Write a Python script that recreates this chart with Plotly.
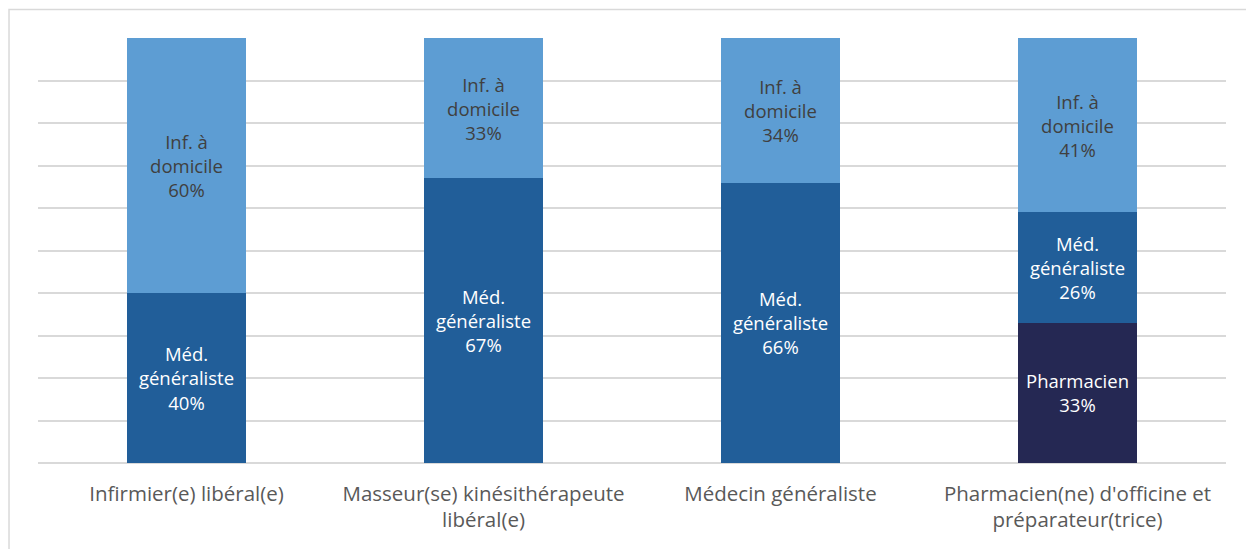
import plotly.graph_objects as go

# Categories and shares (%)
categories = [
    "Infirmier(e) libéral(e)",
    "Masseur(se) kinésithérapeute<br>libéral(e)",
    "Médecin généraliste",
    "Pharmacien(ne) d'officine et<br>préparateur(trice)",
]
pharmacien = [None, None, None, 33]
med_generaliste = [40, 67, 66, 26]
inf_domicile = [60, 33, 34, 41]

series = [
    ("Pharmacien", pharmacien, "Pharmacien", "#252853", "white"),
    ("Méd. généraliste", med_generaliste, "Méd.<br>généraliste", "#215E99", "white"),
    ("Inf. à domicile", inf_domicile, "Inf. à<br>domicile", "#5D9DD3", "#404040"),
]

fig = go.Figure()

for name, vals, label, color, tcolor in series:
    texts = [f"{label}<br>{v}%" if v is not None else "" for v in vals]
    fig.add_trace(go.Bar(
        x=categories,
        y=vals,
        name=name,
        marker=dict(color=color, line=dict(width=0)),
        text=texts,
        textposition="inside",
        insidetextanchor="middle",
        textangle=0,
        textfont=dict(family="Open Sans", size=18.5, color=tcolor),
        hoverinfo="skip",
    ))

# the page body has an 8px margin, so the figure is 8px smaller than the window
fig.update_layout(
    barmode="stack",
    bargap=0.6,
    width=1246,
    height=541,
    margin=dict(l=30, r=28, t=30, b=86),
    paper_bgcolor="white",
    plot_bgcolor="white",
    showlegend=False,
    font=dict(family="Open Sans", color="#595959"),
)

fig.update_xaxes(
    showgrid=False,
    showline=False,
    ticks="",
    ticklabelstandoff=16,
    tickfont=dict(family="Open Sans", size=20.5, color="#595959"),
)

fig.update_yaxes(
    range=[0, 100],
    dtick=10,
    showticklabels=False,
    showgrid=True,
    gridcolor="#d9d9d9",
    gridwidth=1.5,
    zeroline=True,
    zerolinecolor="#d9d9d9",
    zerolinewidth=1.5,
)

# light outer frame of the chart (cropped on the right and bottom)
fig.add_shape(
    type="rect", xref="paper", yref="paper",
    x0=-0.0244, x1=1.1, y0=-0.4, y1=1.067,
    line=dict(color="#d9d9d9", width=1.5),
    layer="below",
)

fig.write_html("out.html")
